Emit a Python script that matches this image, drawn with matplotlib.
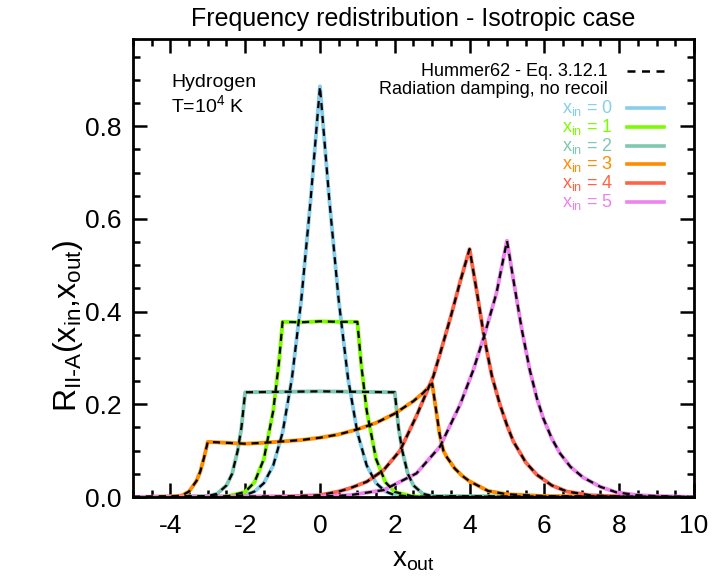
import matplotlib
matplotlib.use('Agg')
import matplotlib.pyplot as plt
from matplotlib.ticker import MultipleLocator

plt.rcParams['font.family'] = ['Liberation Sans', 'DejaVu Sans']
plt.rcParams['mathtext.default'] = 'regular'
plt.rcParams['axes.unicode_minus'] = False

# values
x_in_values = [0, 1, 2, 3, 4, 5]
colors = ['#87CEEB', '#7CFC00', '#7FC8B2', '#FF8C00', '#FF6347', '#EE82EE']

x0 = [-5, -3, -2.5, -2, -1.75, -1.5, -1.25, -1, -0.75, -0.5, -0.25, 0,
      0.25, 0.5, 0.75, 1, 1.25, 1.5, 1.75, 2, 2.5, 3, 10]
y0 = [0, 0, 0.001, 0.004, 0.012, 0.030, 0.068, 0.139, 0.256, 0.425, 0.641, 0.886,
      0.641, 0.425, 0.256, 0.139, 0.068, 0.030, 0.012, 0.004, 0.001, 0, 0]

x1 = [-5, -2.5, -2, -1.75, -1.5, -1.25, -1.1, -1.0, -0.5, 0, 0.5, 1.0,
      1.1, 1.25, 1.5, 1.75, 2, 2.5, 10]
y1 = [0, 0.001, 0.011, 0.032, 0.082, 0.186, 0.288, 0.378, 0.377, 0.379, 0.378, 0.378,
      0.288, 0.186, 0.082, 0.032, 0.011, 0.001, 0]

x2 = [-5, -3, -2.75, -2.5, -2.35, -2.2, -2.1, -2.0, -1.0, 0, 1.0, 2.0,
      2.1, 2.2, 2.35, 2.5, 2.75, 3, 10]
y2 = [0, 0.002, 0.007, 0.025, 0.05, 0.10, 0.15, 0.226, 0.227, 0.228, 0.227, 0.226,
      0.15, 0.10, 0.05, 0.025, 0.007, 0.002, 0]

x3 = [-5, -4, -3.7, -3.5, -3.3, -3.2, -3.1, -3.0, -2.5, -2.0, -1.5, -1.0, -0.5, 0,
      0.5, 1.0, 1.5, 2.0, 2.5, 2.75, 3.0, 3.1, 3.2, 3.3, 3.4, 3.6, 3.8, 4.0,
      4.5, 5.0, 6.0, 10]
y3 = [0, 0.001, 0.003, 0.012, 0.035, 0.055, 0.085, 0.119, 0.117, 0.115, 0.117, 0.120,
      0.123, 0.128, 0.135, 0.146, 0.160, 0.180, 0.207, 0.224, 0.245, 0.19, 0.135,
      0.10, 0.085, 0.062, 0.046, 0.034, 0.013, 0.006, 0.002, 0]

x4 = [-5, -1, 0, 0.5, 0.8, 1.25, 1.7, 2.14, 2.58, 3.03, 3.25, 3.5, 3.75, 4.0,
      4.2, 4.4, 4.6, 4.81, 5.0, 5.17, 5.5, 5.8, 6.2, 6.6, 7.2, 8, 10]
y4 = [0, 0.001, 0.004, 0.012, 0.019, 0.033, 0.058, 0.10, 0.175, 0.26, 0.32, 0.39,
      0.465, 0.535, 0.44, 0.34, 0.26, 0.20, 0.155, 0.12, 0.075, 0.048, 0.025, 0.012,
      0.004, 0.001, 0]

x5 = [-5, 0, 0.8, 1.7, 2.58, 3.21, 3.75, 4.1, 4.4, 4.72, 5.0, 5.2, 5.4, 5.61,
      5.8, 5.97, 6.2, 6.42, 6.7, 7.04, 7.5, 7.93, 8.5, 9, 10]
y5 = [0, 0.001, 0.004, 0.015, 0.051, 0.109, 0.20, 0.274, 0.35, 0.44, 0.553, 0.455,
      0.36, 0.274, 0.213, 0.170, 0.126, 0.094, 0.065, 0.042, 0.022, 0.010, 0.004,
      0.002, 0]

xs = [x0, x1, x2, x3, x4, x5]
ys = [y0, y1, y2, y3, y4, y5]

fig = plt.figure(figsize=(7.13, 5.82), dpi=100)
ax = fig.add_axes([0.1865, 0.146, 0.7868, 0.7869])

for x, y, c in zip(xs, ys, colors):
    ax.plot(x, y, color=c, lw=2.8, solid_joinstyle='round')
for x, y in zip(xs, ys):
    ax.plot(x, y, color='black', lw=1.6, linestyle=(0, (3.2, 2.6)))

ax.set_xlim(-5, 10)
ax.set_ylim(0, 0.988)
ax.xaxis.set_major_locator(MultipleLocator(2))
ax.xaxis.set_minor_locator(MultipleLocator(0.5))
ax.yaxis.set_minor_locator(MultipleLocator(0.05))
ax.set_yticks([0, 0.2, 0.4, 0.6, 0.8])
ax.set_yticklabels(['0.0', '0.2', '0.4', '0.6', '0.8'])
ax.tick_params(which='both', direction='in', top=True, right=True, width=1.8)
ax.tick_params(which='major', length=10, labelsize=19)
ax.tick_params(which='minor', length=5)
ax.tick_params(axis='x', pad=12)
ax.tick_params(axis='y', pad=8)
for s in ax.spines.values():
    s.set_linewidth(2)

fig.text(413.5 / 713, 1 - 19 / 582, 'Frequency redistribution - Isotropic case',
         ha='center', va='center', fontsize=18)
fig.text(413.5 / 713, 1 - 560 / 582, r'x$_{out}$', ha='center', va='center', fontsize=20)
fig.text(68 / 713, 1 - 326 / 582, r'R$_{II\text{-}A}$(x$_{in}$,x$_{out}$)',
         rotation=90, ha='center', va='center', fontsize=23)

fig.text(171 / 713, 1 - 83 / 582, 'Hydrogen', ha='left', va='center', fontsize=14)
fig.text(171 / 713, 1 - 105 / 582, r'T=10$^{4}$ K', ha='left', va='center', fontsize=14)

# legend drawn by hand: text on the left, sample line on the right
tr = fig.transFigure
fig.text(608 / 713, 1 - 71 / 582, 'Hummer62 - Eq. 3.12.1', ha='right', va='center',
         fontsize=13)
ax.plot([627 / 713, 664 / 713], [1 - 71 / 582] * 2, transform=tr, color='black', lw=1.8,
        linestyle=(0, (3.2, 2.6)), clip_on=False)
fig.text(608 / 713, 1 - 89 / 582, 'Radiation damping, no recoil', ha='right', va='center',
         fontsize=13)
for i, (xin, c) in enumerate(zip(x_in_values, colors)):
    yy = 1 - (108 + 18.8 * i) / 582
    fig.text(613 / 713, yy, r'x$_{in}$ = %d' % xin, ha='right', va='center',
             fontsize=13, color=c)
    ax.plot([627 / 713, 664 / 713], [yy, yy], transform=tr, color=c, lw=2.6,
            clip_on=False)

fig.savefig('out.png', dpi=100)
